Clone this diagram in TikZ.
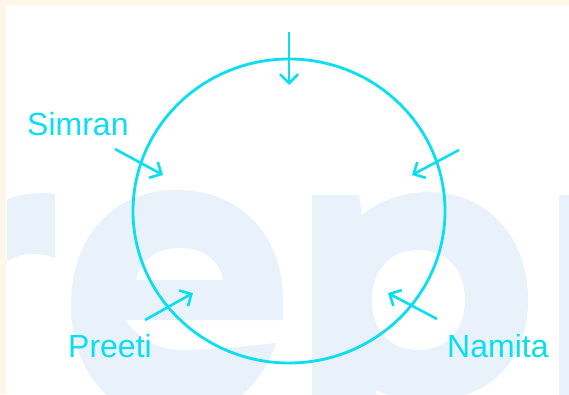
\documentclass[tikz,border=0pt]{standalone}
\usepackage{fontspec}
\setmainfont{Liberation Sans}
\usetikzlibrary{arrows.meta,shapes.geometric}
\definecolor{cy}{HTML}{0ADEF0}
\definecolor{wm}{HTML}{E9F1FB}
\definecolor{beige}{HTML}{FFF6EA}
\begin{document}
\begin{tikzpicture}[x=1pt,y=-1pt,
  lbl/.style={text=cy,font=\fontsize{32}{36}\selectfont,inner sep=0pt,anchor=base west},
  arr/.style={draw=cy,line width=2.6pt,-{Straight Barb[length=9pt,width=18pt,line width=2.6pt]}},
  ring/.style={draw=cy,line width=2.8pt}]
\useasboundingbox (0,0) rectangle (569,394);
\fill[white] (0,0) rectangle (569,394);
% watermark
\begin{scope}
\clip (6,5) rectangle (569,394);
\fill[wm] (7,262) -- (7,200) .. controls (20,193) and (40,192) .. (55,194) -- (55,258) .. controls (40,252) and (20,252) .. (7,262) -- cycle;
\fill[wm] (177,190) .. controls (240,190) and (283,235) .. (283,300) -- (283,320) -- (125,320) .. controls (140,340) and (160,350) .. (180,350) .. controls (220,350) and (255,345) .. (276,343) .. controls (260,390) and (220,420) .. (177,420) .. controls (110,420) and (71,370) .. (71,305) .. controls (71,235) and (115,190) .. (177,190) -- cycle;
\fill[white] (136,280) .. controls (140,262) and (155,248) .. (180,248) .. controls (205,248) and (220,262) .. (223,280) -- cycle;
\fill[wm] (312,195) -- (359,195) -- (362,215) .. controls (380,200) and (405,192) .. (428,192) .. controls (490,192) and (528,240) .. (528,300) .. controls (528,360) and (490,400) .. (430,400) .. controls (405,400) and (385,395) .. (376,390) -- (376,400) -- (312,400) -- cycle;
\fill[white] (418,250) .. controls (447,250) and (465,270) .. (465,300) .. controls (465,330) and (447,350) .. (418,350) .. controls (390,350) and (372,330) .. (372,300) .. controls (372,270) and (390,250) .. (418,250) -- cycle;
\fill[wm] (559,195) rectangle (575,400);
\end{scope}
% border
\fill[beige] (0,0) rectangle (569,5);
\fill[beige] (0,0) rectangle (6,394);
% circle
\node[ring,ellipse,minimum width=312pt,minimum height=304pt,inner sep=0pt] (c) at (289,211) {};
% labels
\node[lbl] (simran) at (27,135) {Simran};
\node[lbl] (preeti) at (68,357) {Preeti};
\node[lbl] (namita) at (447,357) {Namita};
% arrows
\coordinate (t0) at (289,32);  \coordinate (t1) at (289,85);
\coordinate (s0) at (115,149); \coordinate (s1) at (163,175);
\coordinate (r0) at (459,150); \coordinate (r1) at (412,175);
\coordinate (p0) at (145,320); \coordinate (p1) at (193,293);
\coordinate (n0) at (437,319); \coordinate (n1) at (388,293);
\draw[arr] (t0) -- (t1);
\draw[arr] (s0) -- (s1);
\draw[arr] (r0) -- (r1);
\draw[arr] (p0) -- (p1);
\draw[arr] (n0) -- (n1);
\end{tikzpicture}
\end{document}
